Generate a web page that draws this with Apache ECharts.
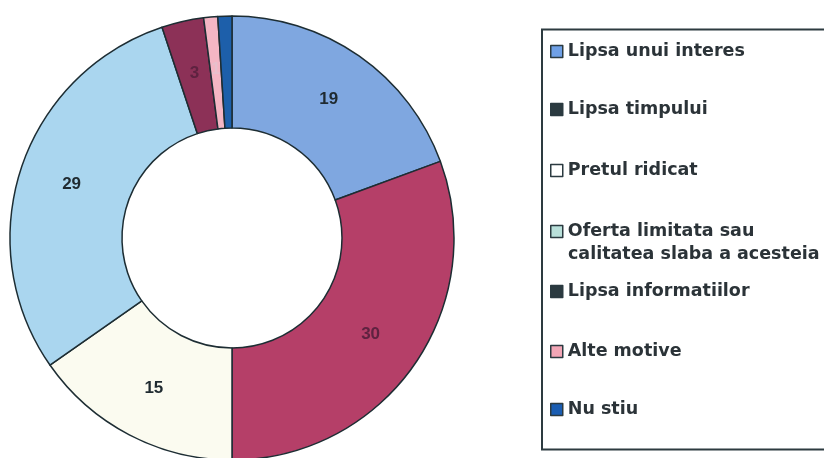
<!DOCTYPE html>
<html>
<head>
<meta charset="utf-8">
<script src="https://cdn.jsdelivr.net/npm/echarts@6/dist/echarts.min.js"></script>
<style>html,body{margin:0;padding:0;background:#fff}#c{width:824px;height:458px}</style>
</head>
<body>
<div id="c"></div>
<script>
const categories = ['Lipsa unui interes','Lipsa timpului','Pretul ridicat','Oferta limitata sau calitatea slaba a acesteia','Lipsa informatiilor','Alte motive','Nu stiu'];
const values = [19, 30, 15, 29, 3, 1, 1];
const sliceColors = ['#7FA7E0','#B53F68','#FBFBF0','#AAD6EF','#8C3157','#F4B6C4','#1D5FAA'];
const labelColors = ['#1f2a30','#5e2240','#1f2a30','#1f2a30','#5e2240','#e8c0cc','#1D5FAA'];
const legendIconColors = ['#6FA0E6','#2B3A40','#FFFFFF','#B9E0DA','#2B3A40','#F2A6B6','#1A5DB2'];
const legendLines = ['Lipsa unui interes','Lipsa timpului','Pretul ridicat','Oferta limitata sau','Lipsa informatiilor','Alte motive','Nu stiu'];
const legendCenters = [48.5, 106.5, 167.5, 228.5, 288.5, 348.5, 406.5];

const chart = echarts.init(document.getElementById('c'));
const legends = categories.map((name, i) => ({
  orient: 'vertical',
  left: 550,
  top: legendCenters[i] - 6,
  padding: 0,
  itemWidth: 12,
  itemHeight: 12,
  icon: 'rect',
  selectedMode: false,
  data: [{name: name, itemStyle: {color: legendIconColors[i], borderColor: '#2B3A40', borderWidth: 1.5}}],
  formatter: () => legendLines[i],
  textStyle: {fontFamily: 'DejaVu Sans', fontWeight: 'bold', fontSize: 17.5, color: '#2B3338', lineHeight: 12}
}));

chart.setOption({
  backgroundColor: '#fff',
  animation: false,
  legend: legends,
  graphic: [
    {type: 'rect', shape: {x: 542, y: 29.5, width: 320, height: 420}, style: {fill: 'none', stroke: '#2D3B40', lineWidth: 2}, silent: true},
    {type: 'text', left: 568, top: 245, style: {text: 'calitatea slaba a acesteia', font: 'bold 17.5px "DejaVu Sans"', fill: '#2B3338'}, silent: true}
  ],
  series: [{
    type: 'pie',
    center: [232, 238],
    radius: [110, 222],
    startAngle: 90,
    clockwise: true,
    avoidLabelOverlap: false,
    label: {show: true, position: 'inside', formatter: '{c}', fontFamily: 'Liberation Sans', fontWeight: 'bold', fontSize: 17},
    labelLine: {show: false},
    itemStyle: {borderColor: '#1D2D33', borderWidth: 1.5},
    emphasis: {disabled: true},
    data: categories.map((name, i) => ({
      name: name,
      value: values[i],
      itemStyle: {color: sliceColors[i]},
      label: {color: labelColors[i]}
    }))
  }]
});
</script>
</body>
</html>
